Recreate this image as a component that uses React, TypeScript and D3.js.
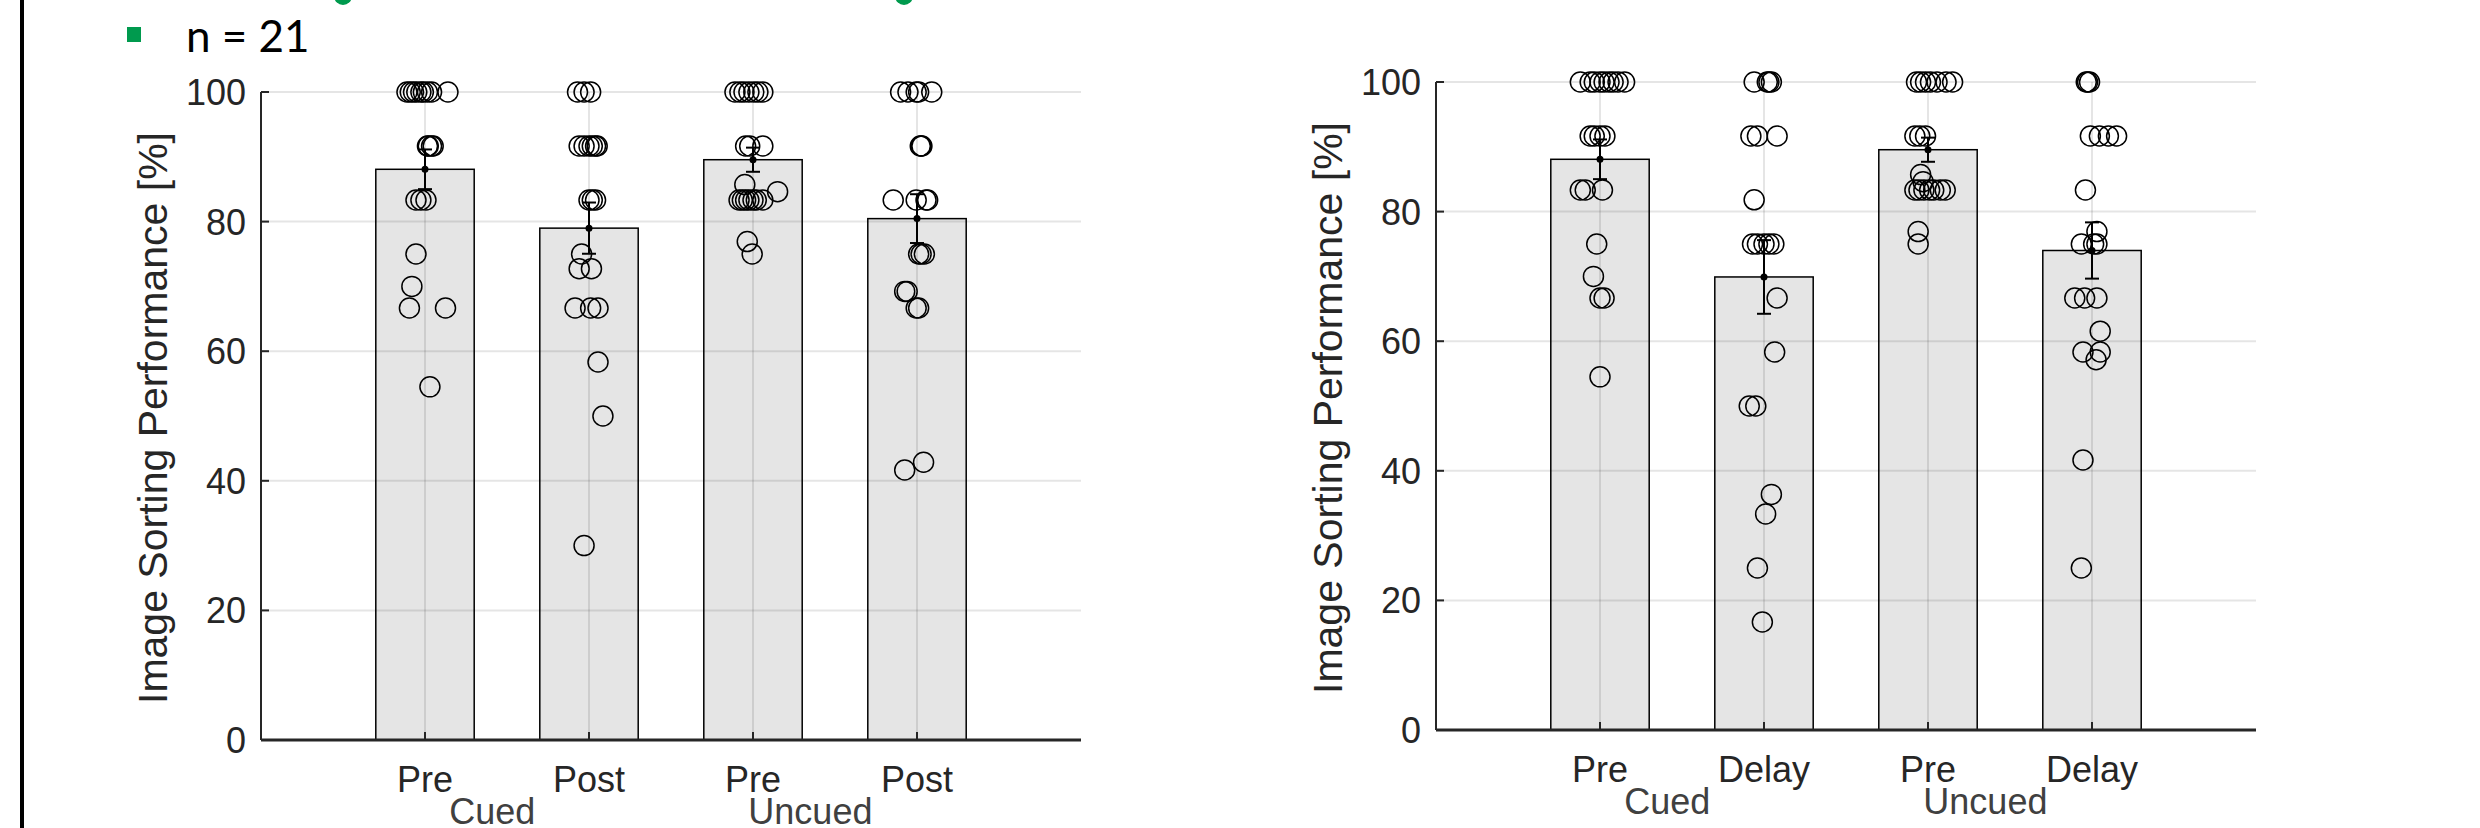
import React, { useEffect, useRef } from "react";
import * as d3 from "d3";

// x tick labels and group labels
const leftCategories = ["Pre", "Post", "Pre", "Post"];
const rightCategories = ["Pre", "Delay", "Pre", "Delay"];
const groupLabels = ["Cued", "Uncued"];
const yTicks = [0, 20, 40, 60, 80, 100];
const yLabel = "Image Sorting Performance [%]";
const sampleLabel = "n = 21";

// per participant scores (%)
const preCuedScores = [100, 100, 100, 100, 100, 100, 100, 100, 100, 91.67, 91.67, 91.67, 91.67, 83.33, 83.33, 83.33, 75, 70, 66.67, 66.67, 54.5];
const postCuedScores = [100, 100, 100, 91.67, 91.67, 91.67, 91.67, 91.67, 91.67, 83.33, 83.33, 83.33, 75, 72.73, 72.73, 66.67, 66.67, 66.67, 58.33, 50, 30];
const preUncuedScores = [100, 100, 100, 100, 100, 100, 100, 91.67, 91.67, 91.67, 85.71, 84.62, 83.33, 83.33, 83.33, 83.33, 83.33, 83.33, 83.33, 76.92, 75];
const postUncuedScores = [100, 100, 100, 100, 100, 91.67, 91.67, 91.67, 83.33, 83.33, 83.33, 83.33, 75, 75, 75, 69.23, 69.23, 66.67, 66.67, 42.86, 41.67];
const delayCuedScores = [100, 100, 100, 100, 91.67, 91.67, 91.67, 81.82, 75, 75, 75, 75, 75, 66.67, 58.33, 50, 50, 36.36, 33.33, 25, 16.67];
const delayUncuedScores = [100, 100, 100, 91.67, 91.67, 91.67, 91.67, 83.33, 76.92, 75, 75, 75, 66.67, 66.67, 66.67, 61.54, 58.33, 58.33, 57.14, 41.67, 25];

// horizontal jitter of each dot, in category units
const preCuedJitterA = [-0.11, -0.09, -0.07, -0.05, -0.025, -0.01, 0.015, 0.04, 0.14, 0.02, 0.04, 0.05, 0.015, -0.055, -0.025, 0.006, -0.055, -0.08, -0.095, 0.125, 0.03];
const postCuedJitter = [-0.07, -0.03, 0.01, -0.06, -0.03, 0, 0.02, 0.04, 0.05, 0, 0.02, 0.04, -0.045, -0.06, 0.015, -0.085, 0.01, 0.055, 0.055, 0.085, -0.03];
const preUncuedJitterA = [-0.11, -0.08, -0.055, -0.025, 0.005, 0.03, 0.06, -0.045, -0.02, 0.06, -0.05, 0.15, -0.085, -0.065, -0.045, -0.025, 0, 0.02, 0.06, -0.035, -0.005];
const postUncuedJitter = [-0.1, -0.055, -0.005, 0.01, 0.09, 0.02, 0.025, 0.03, -0.145, -0.005, 0.055, 0.065, 0.01, 0.025, 0.045, -0.075, -0.06, -0.005, 0.01, 0.04, -0.075];
const preCuedJitterB = [-0.12, -0.06, -0.035, 0, 0.025, 0.055, 0.08, 0.11, 0.15, -0.06, -0.035, 0, 0.03, -0.12, -0.09, 0.015, -0.02, -0.04, 0, 0.025, 0];
const delayCuedJitter = [-0.06, 0.02, 0.03, 0.045, -0.08, -0.04, 0.08, -0.06, -0.07, -0.04, 0, 0.03, 0.06, 0.08, 0.065, -0.09, -0.05, 0.045, 0.01, -0.04, -0.01];
const preUncuedJitterB = [-0.07, -0.045, -0.015, 0.015, 0.055, 0.11, 0.15, -0.08, -0.05, -0.015, -0.045, -0.03, -0.08, -0.055, -0.025, 0.01, 0.035, 0.075, 0.105, -0.06, -0.06];
const delayUncuedJitter = [-0.035, -0.027, -0.015, -0.01, 0.045, 0.1, 0.15, -0.04, 0.03, -0.065, 0.01, 0.03, -0.105, -0.045, 0.03, 0.05, -0.055, 0.05, 0.025, -0.055, -0.065];

const FONT = "'Liberation Sans', Arial, Helvetica, sans-serif";
const INK = "#262626";

const drawPanel = (svg, cfg) => {
  const x = d3.scaleLinear().domain([0, 5]).range([cfg.x0, cfg.x1]);
  const y = d3.scaleLinear().domain([0, 100]).range([cfg.y0, cfg.y1]);
  const barW = x(0.6) - x(0);
  const g = svg.append("g");

  const stats = cfg.series.map((s, i) => ({
    pos: i + 1,
    mean: d3.mean(s.scores),
    sem: d3.deviation(s.scores) / Math.sqrt(s.scores.length),
  }));

  // bars
  g.selectAll(".bar")
    .data(stats)
    .enter()
    .append("rect")
    .attr("x", (d) => x(d.pos) - barW / 2)
    .attr("y", (d) => y(d.mean))
    .attr("width", barW)
    .attr("height", (d) => y(0) - y(d.mean))
    .attr("fill", "#e5e5e5")
    .attr("stroke", "#000")
    .attr("stroke-width", 1.5);

  // grid on top of the bars
  g.selectAll(".hgrid")
    .data(yTicks.slice(1))
    .enter()
    .append("line")
    .attr("x1", x(0))
    .attr("x2", x(5))
    .attr("y1", (d) => y(d))
    .attr("y2", (d) => y(d))
    .attr("stroke", "#000")
    .attr("stroke-opacity", 0.1)
    .attr("stroke-width", 2);
  g.selectAll(".vgrid")
    .data(stats)
    .enter()
    .append("line")
    .attr("x1", (d) => x(d.pos))
    .attr("x2", (d) => x(d.pos))
    .attr("y1", y(0))
    .attr("y2", y(100))
    .attr("stroke", "#000")
    .attr("stroke-opacity", 0.1)
    .attr("stroke-width", 2);

  // individual dots
  cfg.series.forEach((s, i) => {
    g.selectAll(".dot" + i)
      .data(s.scores)
      .enter()
      .append("circle")
      .attr("cx", (d, j) => x(i + 1 + s.jitter[j]))
      .attr("cy", (d) => y(d))
      .attr("r", 10)
      .attr("fill", "none")
      .attr("stroke", "#000")
      .attr("stroke-width", 1.5);
  });

  // error bars
  const eb = g.selectAll(".eb").data(stats).enter().append("g");
  eb.append("line")
    .attr("x1", (d) => x(d.pos))
    .attr("x2", (d) => x(d.pos))
    .attr("y1", (d) => y(d.mean - d.sem))
    .attr("y2", (d) => y(d.mean + d.sem))
    .attr("stroke", "#000")
    .attr("stroke-width", 2);
  [-1, 1].forEach((k) => {
    eb.append("line")
      .attr("x1", (d) => x(d.pos) - 7)
      .attr("x2", (d) => x(d.pos) + 7)
      .attr("y1", (d) => y(d.mean + k * d.sem))
      .attr("y2", (d) => y(d.mean + k * d.sem))
      .attr("stroke", "#000")
      .attr("stroke-width", 2);
  });
  eb.append("circle")
    .attr("cx", (d) => x(d.pos))
    .attr("cy", (d) => y(d.mean))
    .attr("r", 3.5)
    .attr("fill", "#000");

  // y axis
  g.append("line")
    .attr("x1", x(0))
    .attr("x2", x(0))
    .attr("y1", y(0))
    .attr("y2", y(100))
    .attr("stroke", INK)
    .attr("stroke-width", 2);
  g.selectAll(".ytick")
    .data(yTicks)
    .enter()
    .append("line")
    .attr("x1", x(0))
    .attr("x2", x(0) + 8)
    .attr("y1", (d) => y(d))
    .attr("y2", (d) => y(d))
    .attr("stroke", INK)
    .attr("stroke-width", 2);
  g.selectAll(".ylab")
    .data(yTicks)
    .enter()
    .append("text")
    .attr("x", x(0) - 15)
    .attr("y", (d) => y(d))
    .attr("dy", "0.36em")
    .attr("text-anchor", "end")
    .attr("font-family", FONT)
    .attr("font-size", 36)
    .attr("fill", INK)
    .text((d) => d);

  // x axis
  g.append("line")
    .attr("x1", x(0))
    .attr("x2", x(5))
    .attr("y1", y(0))
    .attr("y2", y(0))
    .attr("stroke", INK)
    .attr("stroke-width", 3);
  g.selectAll(".xtick")
    .data(stats)
    .enter()
    .append("line")
    .attr("x1", (d) => x(d.pos))
    .attr("x2", (d) => x(d.pos))
    .attr("y1", y(0))
    .attr("y2", y(0) - 8)
    .attr("stroke", INK)
    .attr("stroke-width", 2);
  g.selectAll(".xlab")
    .data(cfg.categories)
    .enter()
    .append("text")
    .attr("x", (d, i) => x(i + 1))
    .attr("y", y(0) + 52)
    .attr("text-anchor", "middle")
    .attr("font-family", FONT)
    .attr("font-size", 36)
    .attr("fill", INK)
    .text((d) => d);
  g.selectAll(".grp")
    .data(groupLabels)
    .enter()
    .append("text")
    .attr("x", (d, i) => x([1.41, 3.35][i]))
    .attr("y", y(0) + 84)
    .attr("text-anchor", "middle")
    .attr("font-family", FONT)
    .attr("font-size", 36)
    .attr("fill", "#404040")
    .text((d) => d);

  // y label
  g.append("text")
    .attr("transform", "translate(" + (x(0) - 94) + "," + (y(50) + 2) + ") rotate(-90)")
    .attr("text-anchor", "middle")
    .attr("font-family", FONT)
    .attr("font-size", 41)
    .attr("fill", INK)
    .text(yLabel);
};

const drawChart = (el) => {
  d3.select(el).selectAll("*").remove();
  const svg = d3
    .select(el)
    .append("svg")
    .attr("width", 2480)
    .attr("height", 828)
    .style("display", "block")
    .style("background", "#fff");

  // slide decoration: left border, clipped green heading, bullet
  svg.append("rect").attr("x", 20).attr("y", 0).attr("width", 4).attr("height", 828).attr("fill", "#000");
  svg.append("circle").attr("cx", 343).attr("cy", -4).attr("r", 9).attr("fill", "#009a4e");
  svg.append("circle").attr("cx", 904).attr("cy", -4).attr("r", 9).attr("fill", "#009a4e");
  svg.append("rect").attr("x", 127).attr("y", 27).attr("width", 14).attr("height", 15).attr("fill", "#009a4e");
  svg
    .append("text")
    .attr("x", 186)
    .attr("y", 52)
    .attr("font-family", "Lato, 'Open Sans', sans-serif")
    .attr("font-size", 44)
    .attr("fill", "#000")
    .text(sampleLabel);

  drawPanel(svg, {
    x0: 261,
    x1: 1081,
    y0: 740,
    y1: 92,
    categories: leftCategories,
    series: [
      { scores: preCuedScores, jitter: preCuedJitterA },
      { scores: postCuedScores, jitter: postCuedJitter },
      { scores: preUncuedScores, jitter: preUncuedJitterA },
      { scores: postUncuedScores, jitter: postUncuedJitter },
    ],
  });

  drawPanel(svg, {
    x0: 1436,
    x1: 2256,
    y0: 730,
    y1: 82,
    categories: rightCategories,
    series: [
      { scores: preCuedScores, jitter: preCuedJitterB },
      { scores: delayCuedScores, jitter: delayCuedJitter },
      { scores: preUncuedScores, jitter: preUncuedJitterB },
      { scores: delayUncuedScores, jitter: delayUncuedJitter },
    ],
  });
};

const App = () => {
  const ref = useRef(null);
  useEffect(() => {
    document.body.style.margin = "0";
    drawChart(ref.current);
  }, []);
  return <div ref={ref}></div>;
};

export default App;
